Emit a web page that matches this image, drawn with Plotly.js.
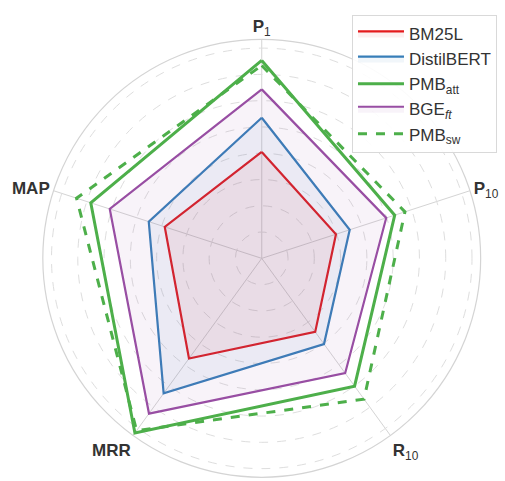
<!DOCTYPE html>
<html>
<head>
<meta charset="utf-8">
<script src="https://cdn.plot.ly/plotly-3.0.1.min.js"></script>
<style>html,body{margin:0;padding:0;background:#fff;}#chart{width:505px;height:481px;}</style>
</head>
<body>
<div id="chart"></div>
<script>
// Metric axes (clockwise from top)
const metrics = ['<b>P</b><sub>1</sub>', '<b>P</b><sub>10</sub>', '<b>R</b><sub>10</sub>', '<b>MRR</b>', '<b>MAP</b>'];
const seriesNames = ['BM25L', 'DistilBERT', 'PMB<sub>att</sub>', 'BGE<sub><i>ft</i></sub>', 'PMB<sub>sw</sub>'];

// Values per metric, order: P1, P10, R10, MRR, MAP
const bm25l      = [0.405, 0.297, 0.346, 0.471, 0.388];
const distilbert = [0.535, 0.352, 0.403, 0.635, 0.452];
const pmbAtt     = [0.753, 0.532, 0.601, 0.821, 0.684];
const bgeFt      = [0.643, 0.498, 0.540, 0.730, 0.608];
const pmbSw      = [0.734, 0.573, 0.662, 0.810, 0.741];

const gridVals = [0.1, 0.2, 0.3, 0.4, 0.5, 0.6, 0.7, 0.8];

function closed(a) { return a.concat([a[0]]); }

const styles = [
  {color: '#e41a1c', fill: 'rgba(228,26,28,0.07)', dash: 'solid', width: 2.2},
  {color: '#377eb8', fill: 'rgba(55,126,184,0.07)', dash: 'solid', width: 2.2},
  {color: '#4daf4a', fill: null, dash: 'solid', width: 3},
  {color: '#984ea3', fill: 'rgba(152,78,163,0.07)', dash: 'solid', width: 2.2},
  {color: '#4daf4a', fill: null, dash: 'dash', width: 3}
];
const data = [bm25l, distilbert, pmbAtt, bgeFt, pmbSw];

const traces = data.map((vals, i) => {
  const s = styles[i];
  const t = {
    type: 'scatterpolar',
    mode: 'lines',
    r: closed(vals),
    theta: closed(metrics),
    name: seriesNames[i],
    line: {color: s.color, width: s.width, dash: s.dash},
    hoverinfo: 'skip'
  };
  if (s.fill) { t.fill = 'toself'; t.fillcolor = s.fill; } else { t.fill = 'none'; }
  return t;
});

const layout = {
  width: 505, height: 481,
  margin: {l: 0, r: 0, t: 0, b: 0},
  paper_bgcolor: '#ffffff',
  font: {family: 'Liberation Sans, Arial, sans-serif', color: '#333333'},
  showlegend: true,
  legend: {
    x: 0.697, y: 0.969, xanchor: 'left', yanchor: 'top',
    bgcolor: 'rgba(255,255,255,0.9)', bordercolor: '#d9d9d9', borderwidth: 1,
    font: {size: 17, color: '#333333', family: 'Liberation Sans, Arial, sans-serif'},
    itemwidth: 46
  },
  polar: {
    domain: {x: [0.0846, 0.952], y: [0.0077, 0.918]},
    bgcolor: '#ffffff',
    angularaxis: {
      rotation: 90, direction: 'clockwise',
      categoryorder: 'array', categoryarray: metrics,
      showline: true, linecolor: '#d4d4d4', linewidth: 1.2,
      gridcolor: '#d4d4d4', gridwidth: 1,
      ticks: '',
      tickfont: {size: 17, color: '#333333', family: 'Liberation Sans, Arial, sans-serif'}
    },
    radialaxis: {
      range: [0, 0.833],
      tickvals: gridVals,
      showticklabels: false, ticks: '',
      showline: false,
      gridcolor: '#dedede', gridwidth: 1, griddash: 'dash'
    }
  }
};

Plotly.newPlot('chart', traces, layout, {displayModeBar: false, staticPlot: true});
</script>
</body>
</html>
